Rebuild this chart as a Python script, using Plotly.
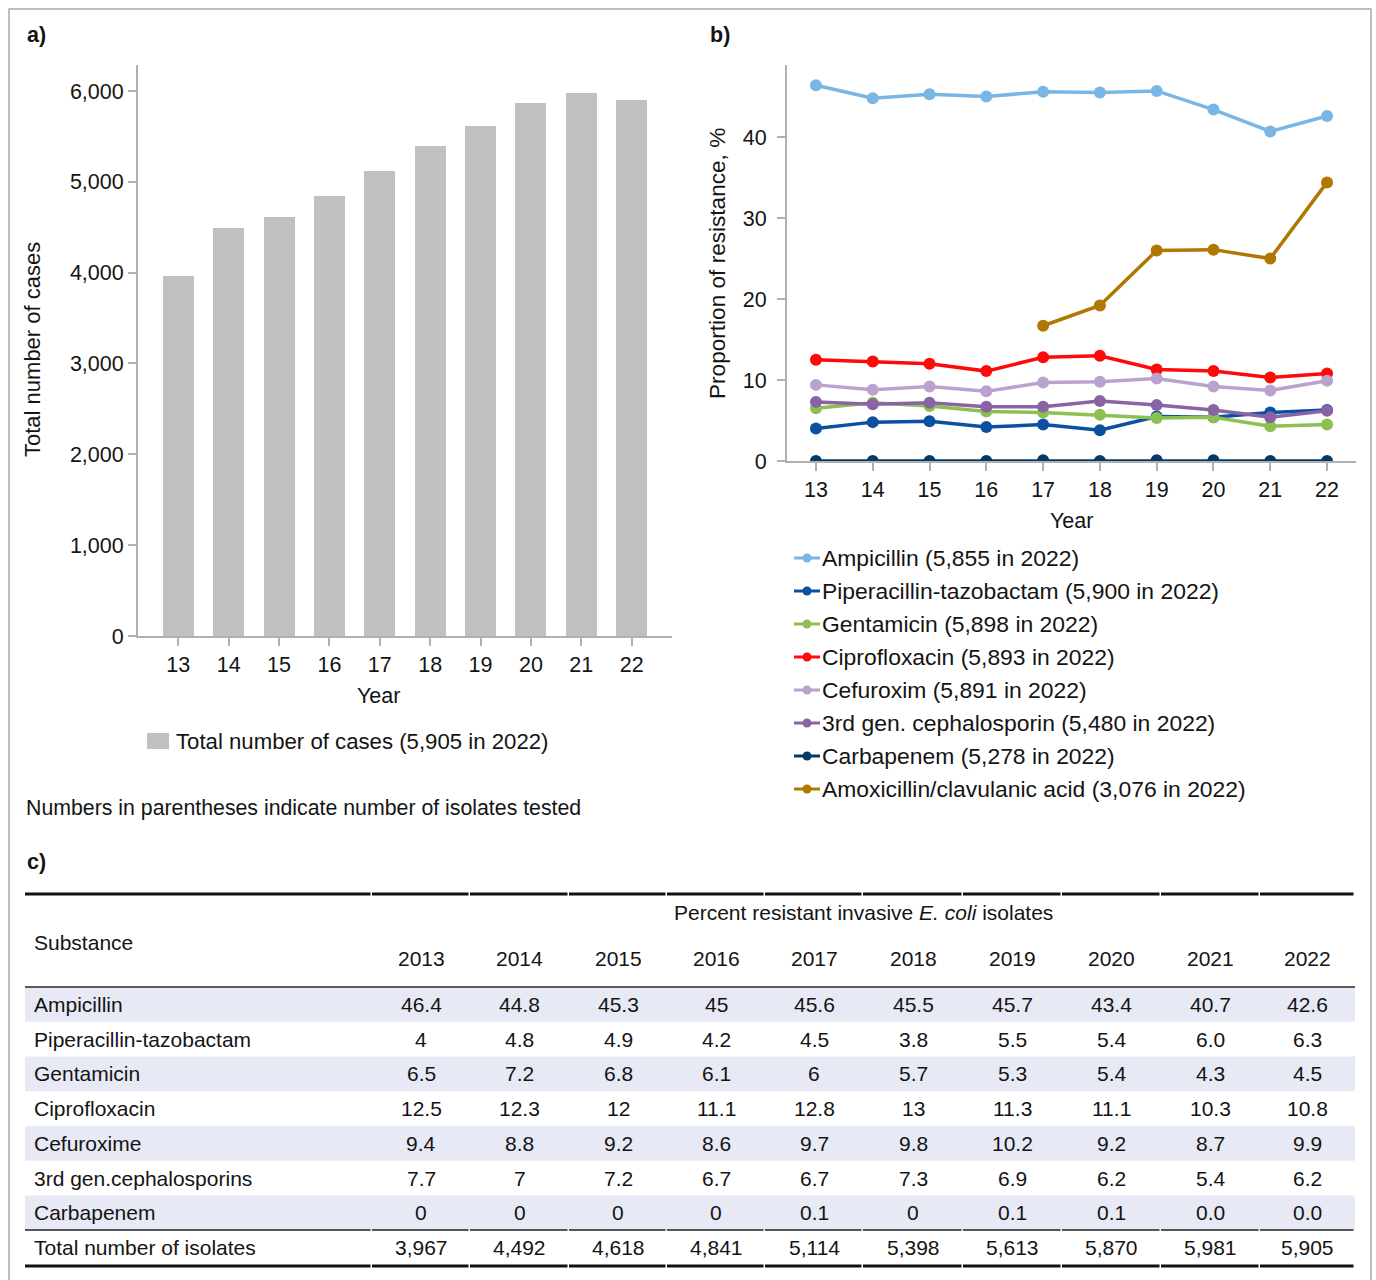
import plotly.graph_objects as go

# ---------------------------------------------------------------- data
x_years = [13, 14, 15, 16, 17, 18, 19, 20, 21, 22]
year_ticks = ["13", "14", "15", "16", "17", "18", "19", "20", "21", "22"]
table_years = ["2013", "2014", "2015", "2016", "2017", "2018", "2019", "2020", "2021", "2022"]

total_cases = [3967, 4492, 4618, 4841, 5114, 5398, 5613, 5870, 5981, 5905]

ampicillin = [46.4, 44.8, 45.3, 45.0, 45.6, 45.5, 45.7, 43.4, 40.7, 42.6]
pip_taz = [4.0, 4.8, 4.9, 4.2, 4.5, 3.8, 5.5, 5.4, 6.0, 6.3]
gentamicin = [6.5, 7.2, 6.8, 6.1, 6.0, 5.7, 5.3, 5.4, 4.3, 4.5]
ciprofloxacin = [12.5, 12.3, 12.0, 11.1, 12.8, 13.0, 11.3, 11.1, 10.3, 10.8]
cefuroxim = [9.4, 8.8, 9.2, 8.6, 9.7, 9.8, 10.2, 9.2, 8.7, 9.9]
ceph3 = [7.3, 7.0, 7.2, 6.7, 6.7, 7.4, 6.9, 6.3, 5.4, 6.2]
carbapenem = [0.0, 0.0, 0.0, 0.0, 0.1, 0.0, 0.1, 0.1, 0.0, 0.0]
amox_clav = [None, None, None, None, 16.7, 19.2, 26.0, 26.1, 25.0, 34.4]

series_labels = [
    "Ampicillin (5,855 in 2022)",
    "Piperacillin-tazobactam (5,900 in 2022)",
    "Gentamicin (5,898 in 2022)",
    "Ciprofloxacin (5,893 in 2022)",
    "Cefuroxim (5,891 in 2022)",
    "3rd gen. cephalosporin (5,480 in 2022)",
    "Carbapenem (5,278 in 2022)",
    "Amoxicillin/clavulanic acid (3,076 in 2022)",
]
series_values = [ampicillin, pip_taz, gentamicin, ciprofloxacin,
                 cefuroxim, ceph3, carbapenem, amox_clav]
series_colors = ["#79b6e4", "#0b51a0", "#8cc152", "#fe0a0a",
                 "#bba2cd", "#8a63a5", "#053a66", "#b07800"]

# table c) as printed
tbl_substances = ["Ampicillin", "Piperacillin-tazobactam", "Gentamicin", "Ciprofloxacin",
                  "Cefuroxime", "3rd gen.cephalosporins", "Carbapenem"]
tbl_ampicillin = ["46.4", "44.8", "45.3", "45", "45.6", "45.5", "45.7", "43.4", "40.7", "42.6"]
tbl_pip_taz = ["4", "4.8", "4.9", "4.2", "4.5", "3.8", "5.5", "5.4", "6.0", "6.3"]
tbl_gentamicin = ["6.5", "7.2", "6.8", "6.1", "6", "5.7", "5.3", "5.4", "4.3", "4.5"]
tbl_ciprofloxacin = ["12.5", "12.3", "12", "11.1", "12.8", "13", "11.3", "11.1", "10.3", "10.8"]
tbl_cefuroxime = ["9.4", "8.8", "9.2", "8.6", "9.7", "9.8", "10.2", "9.2", "8.7", "9.9"]
tbl_ceph3 = ["7.7", "7", "7.2", "6.7", "6.7", "7.3", "6.9", "6.2", "5.4", "6.2"]
tbl_carbapenem = ["0", "0", "0", "0", "0.1", "0", "0.1", "0.1", "0.0", "0.0"]
tbl_rows = [tbl_ampicillin, tbl_pip_taz, tbl_gentamicin, tbl_ciprofloxacin,
            tbl_cefuroxime, tbl_ceph3, tbl_carbapenem]

# ---------------------------------------------------------------- layout helpers
W, H = 1376, 1280
H_PAPER = 1267          # drawable paper height used for vertical placement
FONT = "Liberation Sans, Arial, Helvetica, sans-serif"
INK = "#141414"
AXIS = "#b0b0b0"


def px(x):
    return x / W


def py(y):
    return 1 - y / H_PAPER


annotations = []
shapes = []


def text(x, y, s, size=21.5, anchor="left", color=INK, angle=0):
    annotations.append(dict(
        x=px(x), y=py(y), xref="paper", yref="paper", text=s, showarrow=False,
        xanchor=anchor, yanchor="middle", textangle=angle,
        font=dict(family=FONT, size=size, color=color)))


def hline(x0, x1, y, width, color):
    shapes.append(dict(type="line", xref="paper", yref="paper",
                       x0=px(x0), x1=px(x1), y0=py(y), y1=py(y),
                       line=dict(color=color, width=width)))


fig = go.Figure()

# a) bars
fig.add_trace(go.Bar(
    x=x_years, y=total_cases, width=0.615, marker=dict(color="#c0c0c0", line=dict(width=0)),
    xaxis="x", yaxis="y", showlegend=False, name="Total number of cases"))

# b) resistance lines
for vals, lab, col in zip(series_values, series_labels, series_colors):
    fig.add_trace(go.Scatter(
        x=x_years, y=vals, mode="lines+markers", name=lab,
        line=dict(color=col, width=3.5), marker=dict(color=col, size=12),
        xaxis="x2", yaxis="y2", showlegend=False, connectgaps=False))

axis_common = dict(showline=True, linecolor=AXIS, linewidth=2, ticks="outside",
                   ticklen=8, tickwidth=2, tickcolor=AXIS, showgrid=False,
                   zeroline=False, tickfont=dict(family=FONT, size=21.5, color=INK))

fig.update_layout(
    width=W, height=H, margin=dict(l=0, r=0, t=0, b=0),
    paper_bgcolor="white", plot_bgcolor="white", bargap=0,
    font=dict(family=FONT, color=INK),
    xaxis=dict(domain=[px(138), px(672)], range=[12.2, 22.8], anchor="y",
               tickvals=x_years, ticktext=year_ticks, **axis_common),
    yaxis=dict(domain=[py(636), py(65)], range=[0, 6286], anchor="x",
               tickvals=[0, 1000, 2000, 3000, 4000, 5000, 6000], tickformat=",d",
               **axis_common),
    xaxis2=dict(domain=[px(787), px(1356)], range=[12.49, 22.51], anchor="y2",
                tickvals=x_years, ticktext=year_ticks, **axis_common),
    yaxis2=dict(domain=[py(461), py(65)], range=[0, 48.9], anchor="x2",
                tickvals=[0, 10, 20, 30, 40], ticklabelstandoff=6, **axis_common),
)

# outer frame
shapes.append(dict(type="rect", xref="paper", yref="paper", x0=px(9), x1=px(1371),
                   y0=-0.02, y1=py(9), line=dict(color="#aaaaaa", width=1.5),
                   fillcolor="rgba(0,0,0,0)"))

# panel labels
text(25, 35, "<b>a)</b>")
text(708, 35, "<b>b)</b>")
text(25, 862, "<b>c)</b>")

# axis titles
text(33, 350, "Total number of cases", size=22, angle=-90, anchor="center")
text(378, 696, "Year", anchor="center")
text(718, 264, "Proportion of resistance, %", size=22.6, angle=-90, anchor="center")
text(1071, 521, "Year", anchor="center")

# legend for a)
shapes.append(dict(type="rect", xref="paper", yref="paper", x0=px(147), x1=px(169),
                   y0=py(749), y1=py(733), fillcolor="#c0c0c0", line=dict(width=0)))
text(174, 741, "Total number of cases (5,905 in 2022)", size=22.2)

# legend for b)
for i, (lab, col) in enumerate(zip(series_labels, series_colors)):
    yc = 558 + 33 * i
    hline(794, 820, yc, 3, col)
    shapes.append(dict(type="circle", xref="paper", yref="paper",
                       xsizemode="pixel", ysizemode="pixel",
                       xanchor=px(807), yanchor=py(yc), x0=-4.5, x1=4.5, y0=-4.5, y1=4.5,
                       fillcolor=col, line=dict(width=0)))
    text(820, yc, lab, size=22.9)

text(24, 808, "Numbers in parentheses indicate number of isolates tested", size=21.3)

# ---------------------------------------------------------------- table c)
T_LEFT, T_RIGHT = 25, 1355
col_edges = [372, 470, 569, 667, 765, 863, 963, 1062, 1161, 1260, 1355]
col_centres = [(a + b) / 2 for a, b in zip(col_edges[:-1], col_edges[1:])]
row_h = 34.75
body_top = 987

# zebra shading
for i in range(0, len(tbl_rows), 2):
    y0 = body_top + row_h * i
    shapes.append(dict(type="rect", xref="paper", yref="paper", layer="below",
                       x0=px(T_LEFT), x1=px(T_RIGHT), y0=py(y0 + row_h), y1=py(y0),
                       fillcolor="#e7e9f5", line=dict(width=0)))


def segmented_rule(y, width, color):
    edges = [T_LEFT] + col_edges
    for a, b in zip(edges[:-1], edges[1:]):
        hline(a, b - 1.5, y, width, color)


segmented_rule(894, 3, "#111111")
hline(T_LEFT, T_RIGHT, 987, 2, "#5a5a5a")
segmented_rule(1230, 1.6, "#222222")
segmented_rule(1266, 3, "#111111")

text(863.5, 912, "Percent resistant invasive <i>E. coli</i> isolates", size=21, anchor="center")
text(32, 942, "Substance", size=21)
for xc, yr in zip(col_centres, table_years):
    text(xc, 958, yr, size=21, anchor="center")

for r, (name, row) in enumerate(zip(tbl_substances, tbl_rows)):
    yc = body_top + row_h * (r + 0.5)
    text(32, yc, name, size=21)
    for xc, v in zip(col_centres, row):
        text(xc, yc, v, size=21, anchor="center")

yc_total = body_top + row_h * (len(tbl_rows) + 0.5)
text(32, yc_total, "Total number of isolates", size=21)
for xc, v in zip(col_centres, total_cases):
    text(xc, yc_total, f"{v:,}", size=21, anchor="center")

fig.update_layout(annotations=annotations, shapes=shapes)
fig.write_html("out.html")
